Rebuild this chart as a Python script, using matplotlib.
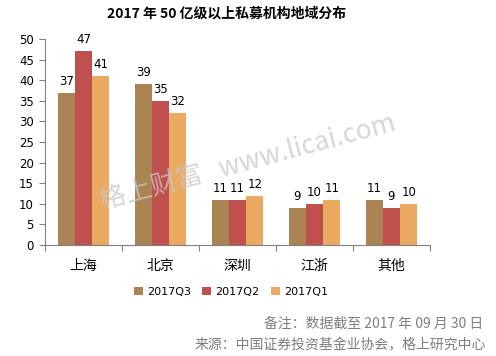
import matplotlib.pyplot as plt
import numpy as np

plt.rcParams['font.family'] = ['Noto Sans CJK SC', 'DejaVu Sans']

regions = ["上海", "北京", "深圳", "江浙", "其他"]
series_names = ["2017Q3", "2017Q2", "2017Q1"]
q3 = [37, 39, 11, 9, 11]
q2 = [47, 35, 11, 10, 9]
q1 = [41, 32, 12, 11, 10]
yticks = [0, 5, 10, 15, 20, 25, 30, 35, 40, 45, 50]

colors = ["#AA8453", "#C0504D", "#EBA962"]


def main():
    fig = plt.figure(figsize=(4.96, 3.56), dpi=100)
    ax = fig.add_axes([45 / 496, 111 / 356, 385 / 496, 206 / 356])

    x = np.arange(len(regions))
    w = 0.225
    for i, (vals, name) in enumerate(zip([q3, q2, q1], series_names)):
        pos = x + (i - 1) * w
        bars = ax.bar(pos, vals, w, color=colors[i], label=name, zorder=2)
        for b, v in zip(bars, vals):
            ax.text(b.get_x() + b.get_width() / 2, v + 1.2, str(v),
                    ha="center", va="bottom", fontsize=8.5,
                    family="DejaVu Sans", color="#000000")

    ax.set_xlim(-0.5, len(regions) - 0.5)
    ax.set_ylim(0, 50)
    ax.set_yticks(yticks)
    ax.set_yticklabels([str(t) for t in yticks], fontsize=8.5, family="DejaVu Sans")
    ax.set_xticks(np.arange(len(regions) + 1) - 0.5)
    ax.set_xticklabels([])
    ax.set_xticks(x, minor=True)
    ax.set_xticklabels(regions, minor=True, fontsize=10)
    ax.tick_params(axis="x", which="minor", length=0, pad=10)
    ax.tick_params(axis="x", which="major", length=4, color="#808080")
    ax.tick_params(axis="y", length=4, color="#808080", pad=4)
    for s in ["top", "right"]:
        ax.spines[s].set_visible(False)
    for s in ["left", "bottom"]:
        ax.spines[s].set_color("#808080")

    fig.text(227 / 496, 1 - 14 / 356, "2017 年 50 亿级以上私募机构地域分布",
             ha="center", va="center", fontsize=10, fontweight="bold")

    # watermark
    fig.text(248 / 496, 1 - 162 / 356, "格上财富   www.licai.com",
             ha="center", va="center", fontsize=19, color="#C8C8C8",
             alpha=0.75, rotation=15, zorder=5,
             family=["Noto Sans CJK SC", "DejaVu Sans"])

    fig.legend(loc="center", bbox_to_anchor=(231 / 496, 1 - 292 / 356),
               ncol=3, frameon=False, handlelength=0.8,
               handleheight=0.8, columnspacing=1.0, handletextpad=0.4,
               prop={"family": "DejaVu Sans", "size": 8})

    fig.text(483 / 496, 1 - 324 / 356, "备注：数据截至 2017 年 09 月 30 日",
             ha="right", va="center", fontsize=10, color="#7F7F7F")
    fig.text(486 / 496, 1 - 345 / 356, "来源：中国证券投资基金业协会，格上研究中心",
             ha="right", va="center", fontsize=10, color="#7F7F7F")

    plt.savefig("out.png", dpi=100)


if __name__ == "__main__":
    main()
